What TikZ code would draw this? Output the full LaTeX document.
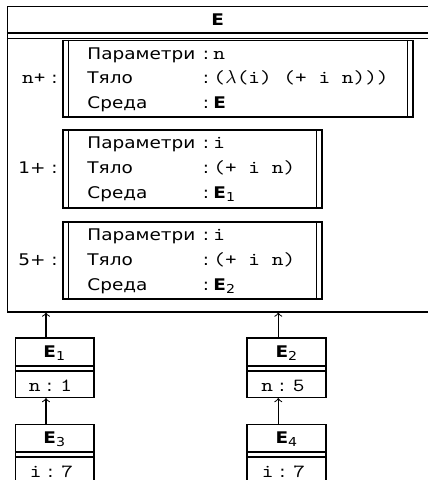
\documentclass[tikz,border=0pt]{standalone}
\usepackage{fontspec}
\setsansfont{DejaVu Sans}[FakeStretch=1.15]
\setmonofont{lmmono10-regular.otf}[FakeStretch=1.2]
\usetikzlibrary{fit}
\newcommand\mtt[1]{{\fontsize{8.9}{10}\selectfont\ttfamily #1}}
\newcommand\envE[1]{\textbf{E}\raisebox{-0.35ex}{\fontsize{5.9}{6}\selectfont #1}}
\newcommand\lam{\makebox[5.6pt]{$\lambda$}}
\begin{document}
\begin{tikzpicture}[x=0.48pt,y=-0.48pt,
  txt/.style={inner sep=0pt, anchor=base west, font=\sffamily\fontsize{7.7}{9.2}\selectfont},
  frame/.style={draw, line width=0.5pt, inner sep=0pt},
  ln/.style={line width=0.5pt},
  arr/.style={->, line width=0.5pt}]
\useasboundingbox (0,0) rectangle (428,480);

% main environment E
\coordinate (Enw) at (7.5,6.5);
\coordinate (Ese) at (429,312);
\node[frame, fit=(Enw)(Ese)] (E) {};
\node[txt, anchor=base] (Et) at (217.8,25.7) {\textbf{E}};
\coordinate (h1) at (0,33);
\coordinate (h2) at (0,38.5);
\draw[ln] (E.west |- h1) -- (E.east |- h1);
\draw[ln] (E.west |- h2) -- (E.east |- h2);

% frame 1
\coordinate (f1nw) at (63,40.5);
\coordinate (f1se) at (413,117);
\node[frame, fit=(f1nw)(f1se)] (f1) {};
\draw[ln] ([xshift=2.88pt]f1.north west) -- ([xshift=2.88pt]f1.south west);
\draw[ln] ([xshift=-2.88pt]f1.north east) -- ([xshift=-2.88pt]f1.south east);
\node[txt, anchor=base east] (l1) at (58,83.5) {\mtt{n+} :};
\node[txt] (p1) at (87,59) {Параметри};
\node[txt] (t1) at (87,83.5) {Тяло};
\node[txt] (s1) at (87,108.5) {Среда};
\node[txt, anchor=base] (c1a) at (206,59) {:};
\node[txt, anchor=base] (c1b) at (206,83.5) {:};
\node[txt, anchor=base] (c1c) at (206,108.5) {:};
\node[txt] (v1a) at (213,59) {\mtt{n}};
\node[txt] (v1b) at (213,83.5) {\mtt{(\lam(i) (+ i n)))}};
\node[txt] (v1c) at (213,108.5) {\textbf{E}};

% frame 2
\coordinate (f2nw) at (63,130);
\coordinate (f2se) at (322,208);
\node[frame, fit=(f2nw)(f2se)] (f2) {};
\draw[ln] ([xshift=2.88pt]f2.north west) -- ([xshift=2.88pt]f2.south west);
\draw[ln] ([xshift=-2.88pt]f2.north east) -- ([xshift=-2.88pt]f2.south east);
\node[txt, anchor=base east] (l2) at (58,173.5) {1+ :};
\node[txt] (p2) at (87,148.5) {Параметри};
\node[txt] (t2) at (87,173.5) {Тяло};
\node[txt] (s2) at (87,198.5) {Среда};
\node[txt, anchor=base] (c2a) at (206,148.5) {:};
\node[txt, anchor=base] (c2b) at (206,173.5) {:};
\node[txt, anchor=base] (c2c) at (206,198.5) {:};
\node[txt] (v2a) at (213,148.5) {\mtt{i}};
\node[txt] (v2b) at (213,173.5) {\mtt{(+ i n)}};
\node[txt] (v2c) at (213,198.5) {\envE{1}};

% frame 3
\coordinate (f3nw) at (63,222);
\coordinate (f3se) at (322,299);
\node[frame, fit=(f3nw)(f3se)] (f3) {};
\draw[ln] ([xshift=2.88pt]f3.north west) -- ([xshift=2.88pt]f3.south west);
\draw[ln] ([xshift=-2.88pt]f3.north east) -- ([xshift=-2.88pt]f3.south east);
\node[txt, anchor=base east] (l3) at (58,265.5) {5+ :};
\node[txt] (p3) at (87,240.5) {Параметри};
\node[txt] (t3) at (87,265.5) {Тяло};
\node[txt] (s3) at (87,290.5) {Среда};
\node[txt, anchor=base] (c3a) at (206,240.5) {:};
\node[txt, anchor=base] (c3b) at (206,265.5) {:};
\node[txt, anchor=base] (c3c) at (206,290.5) {:};
\node[txt] (v3a) at (213,240.5) {\mtt{i}};
\node[txt] (v3b) at (213,265.5) {\mtt{(+ i n)}};
\node[txt] (v3c) at (213,290.5) {\envE{2}};

% E1
\coordinate (e1nw) at (15.5,338);
\coordinate (e1se) at (94,397.5);
\node[frame, fit=(e1nw)(e1se)] (e1) {};
\node[txt, anchor=base] (e1t) at (54.2,357) {\envE{1}};
\coordinate (g1) at (0,366);
\coordinate (g2) at (0,371);
\draw[ln] (e1.west |- g1) -- (e1.east |- g1);
\draw[ln] (e1.west |- g2) -- (e1.east |- g2);
\node[txt, anchor=base] (e1v) at (50.5,391) {\mtt{n} : \mtt{1}};

% E2
\coordinate (e2nw) at (247,338);
\coordinate (e2se) at (326,397.5);
\node[frame, fit=(e2nw)(e2se)] (e2) {};
\node[txt, anchor=base] (e2t) at (286.3,357) {\envE{2}};
\draw[ln] (e2.west |- g1) -- (e2.east |- g1);
\draw[ln] (e2.west |- g2) -- (e2.east |- g2);
\node[txt, anchor=base] (e2v) at (283,391) {\mtt{n} : \mtt{5}};

% E3
\coordinate (e3nw) at (15.5,424.3);
\coordinate (e3se) at (94,486);
\node[frame, fit=(e3nw)(e3se)] (e3) {};
\node[txt, anchor=base] (e3t) at (54.2,443.5) {\envE{3}};
\coordinate (k1) at (0,452);
\coordinate (k2) at (0,457);
\draw[ln] (e3.west |- k1) -- (e3.east |- k1);
\draw[ln] (e3.west |- k2) -- (e3.east |- k2);
\node[txt, anchor=base] (e3v) at (51.5,477) {\mtt{i} : \mtt{7}};

% E4
\coordinate (e4nw) at (247,424.3);
\coordinate (e4se) at (326,486);
\node[frame, fit=(e4nw)(e4se)] (e4) {};
\node[txt, anchor=base] (e4t) at (286.3,443.5) {\envE{4}};
\draw[ln] (e4.west |- k1) -- (e4.east |- k1);
\draw[ln] (e4.west |- k2) -- (e4.east |- k2);
\node[txt, anchor=base] (e4v) at (283.4,477) {\mtt{i} : \mtt{7}};

% arrows
\coordinate (aL) at (46,0);
\coordinate (aR) at (278.3,0);
\draw[arr] (e1.north -| aL) -- (E.south -| aL);
\draw[arr] (e2.north -| aR) -- (E.south -| aR);
\draw[arr] (e3.north -| aL) -- (e1.south -| aL);
\draw[arr] (e4.north -| aR) -- (e2.south -| aR);
\end{tikzpicture}
\end{document}
